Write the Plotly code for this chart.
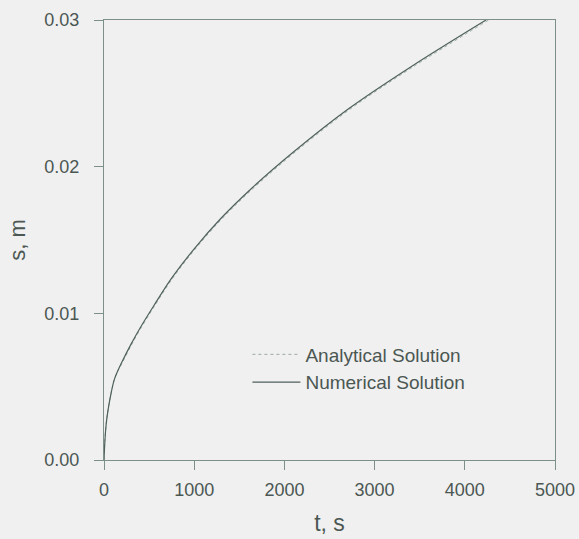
import plotly.graph_objects as go

# Numerical solution
t_num = [0, 10, 25, 50, 80, 110, 140, 200, 300, 400, 550, 750, 1000, 1300, 1650, 2100, 2700, 3400, 4235]
s_num = [0.0, 0.0013, 0.0025, 0.0036, 0.0046, 0.0054, 0.0059, 0.0067, 0.0079, 0.0090, 0.0105,
         0.0124, 0.0144, 0.0165, 0.0186, 0.0210, 0.0239, 0.0268, 0.0300]

# Analytical solution (slightly below numerical)
t_ana = [0, 10, 25, 50, 80, 110, 140, 200, 300, 400, 550, 750, 1000, 1300, 1650, 2100, 2700, 3400, 4265]
s_ana = [0.0, 0.0013, 0.0025, 0.0036, 0.0046, 0.0054, 0.0059, 0.0066, 0.0078, 0.0089, 0.0104,
         0.0123, 0.0143, 0.0164, 0.0185, 0.0209, 0.0238, 0.0267, 0.0300]

x_ticks = [0, 1000, 2000, 3000, 4000, 5000]
y_ticks = [0.00, 0.01, 0.02, 0.03]
y_tick_text = ["0.00", "0.01", "0.02", "0.03"]

BG = "#f0f0f0"
AX = "#7d8f8b"
TXT = "#4b5753"
LINE = "#4f615d"
FONT = "Liberation Sans, Arial, sans-serif"

fig = go.Figure()
fig.add_trace(go.Scatter(x=t_ana, y=s_ana, mode="lines", name="Analytical Solution",
                         line=dict(color="#9aa8a5", width=1, dash="dot", shape="spline")))
fig.add_trace(go.Scatter(x=t_num, y=s_num, mode="lines", name="Numerical Solution",
                         line=dict(color=LINE, width=1.2, shape="spline")))

fig.update_layout(
    width=579, height=539,
    margin=dict(l=104, r=24, t=20, b=79, autoexpand=False),
    paper_bgcolor=BG, plot_bgcolor=BG,
    font=dict(family=FONT, color=TXT, size=18),
    showlegend=True,
    legend=dict(x=0.318, y=0.208, xanchor="left", yanchor="middle",
                bgcolor="rgba(0,0,0,0)", font=dict(size=19, color=TXT),
                itemwidth=48, tracegroupgap=0),
    xaxis=dict(range=[0, 5000], tickvals=x_ticks, ticks="outside", ticklen=9,
               tickcolor=AX, showline=True, linecolor=AX, linewidth=1, mirror=True,
               showgrid=False, zeroline=False, ticklabelstandoff=4, automargin=False,
               title=dict(text="t, s", font=dict(size=23), standoff=16)),
    yaxis=dict(range=[0, 0.03], tickvals=y_ticks, ticktext=y_tick_text, ticks="outside",
               ticklen=9, tickcolor=AX, showline=True, linecolor=AX, linewidth=1, mirror=True,
               showgrid=False, zeroline=False, ticklabelstandoff=11, automargin=False,
               title=dict(text="s, m", font=dict(size=22), standoff=12)),
)

fig.write_html("out.html")
